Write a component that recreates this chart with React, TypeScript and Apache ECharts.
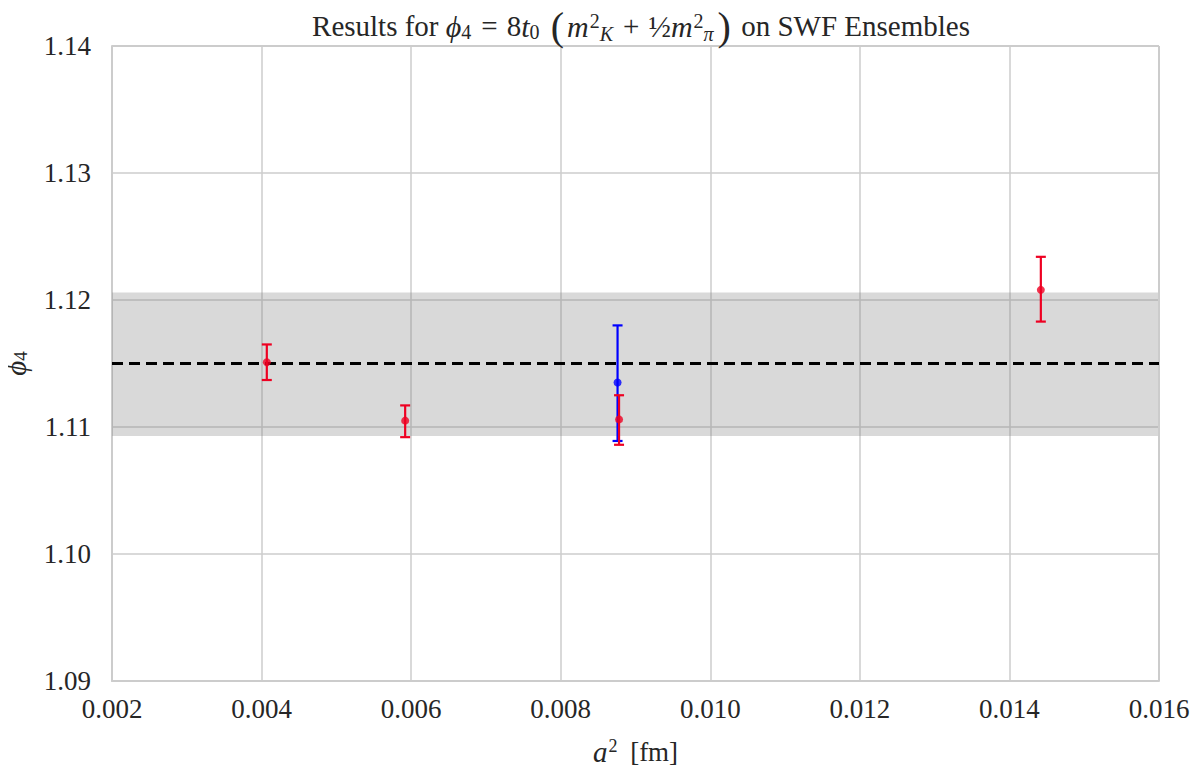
import React, { useEffect, useRef } from "react";
import * as echarts from "echarts";

const xTicks = [0.002, 0.004, 0.006, 0.008, 0.01, 0.012, 0.014, 0.016];
const redX = [0.00407, 0.00592, 0.00878, 0.01442];
const redY = [1.1151, 1.1105, 1.1106, 1.1208];
const redLo = [1.1137, 1.1092, 1.1086, 1.1183];
const redHi = [1.1165, 1.1117, 1.1125, 1.1234];
const blueX = [0.00876];
const blueY = [1.1135];
const blueLo = [1.1089];
const blueHi = [1.1180];
const fitValue = 1.115;
const bandLo = 1.1093;
const bandHi = 1.1206;

const RED = "#ee0022";
const BLUE = "#0000ff";
const FONT = "Liberation Serif";
const TXT = "#262626";

function errSeries(xs: number[], lo: number[], hi: number[], color: string) {
  return {
    type: "custom",
    z: 5,
    renderItem: (params: any, api: any) => {
      const x = api.value(0);
      const p1 = api.coord([x, api.value(1)]);
      const p2 = api.coord([x, api.value(2)]);
      const cap = 5;
      const style = { stroke: color, lineWidth: 2.2 };
      return {
        type: "group",
        children: [
          { type: "line", shape: { x1: p1[0], y1: p1[1], x2: p2[0], y2: p2[1] }, style },
          { type: "line", shape: { x1: p1[0] - cap, y1: p1[1], x2: p1[0] + cap, y2: p1[1] }, style },
          { type: "line", shape: { x1: p2[0] - cap, y1: p2[1], x2: p2[0] + cap, y2: p2[1] }, style },
        ],
      };
    },
    data: xs.map((x, i) => [x, lo[i], hi[i]]),
  };
}

export default function App() {
  const ref = useRef<HTMLDivElement>(null);
  useEffect(() => {
    const chart = echarts.init(ref.current!, null, { renderer: "svg" });
    chart.setOption({
      animation: false,
      backgroundColor: "#ffffff",
      title: {
        text:
          "Results for {i|ϕ}{sb|4}{op|=}8{i|t}{sb|0} {p|(}{i|m}{sp|2}{sbi|K}{op|+}{fr|½}{i|m}{sp|2}{sbi|π}{p|)} on SWF Ensembles",
        left: 636,
        textAlign: "center",
        top: 0,
        textStyle: {
          fontFamily: FONT,
          fontSize: 29,
          fontWeight: "normal",
          color: TXT,
          lineHeight: 42,
          rich: {
            i: { fontFamily: FONT, fontStyle: "italic", fontSize: 30, color: TXT },
            op: { fontFamily: FONT, fontSize: 29, color: TXT, padding: [0, 9, 0, 9] },
            sb: { fontFamily: FONT, fontSize: 20, color: TXT, verticalAlign: "bottom", padding: [0, 1, 5, 0] },
            sbi: { fontFamily: FONT, fontStyle: "italic", fontSize: 20, color: TXT, verticalAlign: "bottom", padding: [0, 1, 3, 0] },
            sp: { fontFamily: FONT, fontSize: 20, color: TXT, verticalAlign: "top", padding: [6, 0, 0, 1] },
            p: { fontFamily: FONT, fontSize: 40, color: TXT, padding: [0, 3, 0, 3] },
            fr: { fontFamily: FONT, fontSize: 30, color: TXT },
          },
        },
      },
      grid: {
        left: 112,
        right: 44,
        top: 46,
        bottom: 94,
        show: false,
        containLabel: false,
        outerBoundsMode: "none",
      },
      xAxis: {
        type: "value",
        min: 0.002,
        max: 0.016,
        interval: 0.002,
        name: "{i|a}{sp|2} [fm]",
        nameLocation: "middle",
        nameGap: 56,
        nameTextStyle: {
          fontFamily: FONT,
          fontSize: 27,
          color: TXT,
          rich: {
            i: { fontFamily: FONT, fontStyle: "italic", fontSize: 29, color: TXT },
            sp: { fontFamily: FONT, fontSize: 18, color: TXT, verticalAlign: "top", padding: [0, 6, 0, 1] },
          },
        },
        axisLine: { show: true, lineStyle: { color: "#cccccc", width: 2 } },
        axisTick: { show: false },
        axisLabel: {
          fontFamily: FONT,
          fontSize: 27,
          color: TXT,
          margin: 14,
          formatter: (v: number) => v.toFixed(3),
        },
        splitLine: { show: true, lineStyle: { color: "#cccccc", width: 1.5 } },
      },
      yAxis: {
        type: "value",
        min: 1.09,
        max: 1.14,
        interval: 0.01,
        name: "{i|ϕ}{sb|4}",
        nameLocation: "middle",
        nameGap: 82,
        nameRotate: 90,
        nameTextStyle: {
          fontFamily: FONT,
          fontSize: 27,
          color: TXT,
          rich: {
            i: { fontFamily: FONT, fontStyle: "italic", fontSize: 29, color: TXT },
            sb: { fontFamily: FONT, fontSize: 19, color: TXT, verticalAlign: "bottom" },
          },
        },
        axisLine: { show: true, lineStyle: { color: "#cccccc", width: 2 } },
        axisTick: { show: false },
        axisLabel: {
          fontFamily: FONT,
          fontSize: 27,
          color: TXT,
          margin: 21,
          formatter: (v: number) => v.toFixed(2),
        },
        splitLine: { show: true, lineStyle: { color: "#cccccc", width: 1.5 } },
      },
      series: [
        {
          type: "line",
          data: [
            [0.002, fitValue],
            [0.016, fitValue],
          ],
          symbol: "none",
          z: 4,
          lineStyle: { color: "#000000", width: 3, type: [11, 6] },
          markArea: {
            silent: true,
            itemStyle: { color: "rgba(128,128,128,0.3)" },
            data: [[{ yAxis: bandLo }, { yAxis: bandHi }]],
          },
        },
        {
          type: "line",
          data: [
            [0.016, 1.09],
            [0.016, 1.14],
          ],
          symbol: "none",
          z: 3,
          lineStyle: { color: "#cccccc", width: 2 },
        },
        {
          type: "line",
          data: [
            [0.002, 1.14],
            [0.016, 1.14],
          ],
          symbol: "none",
          z: 3,
          lineStyle: { color: "#cccccc", width: 2 },
        },
        errSeries(blueX, blueLo, blueHi, BLUE),
        errSeries(redX, redLo, redHi, RED),
        {
          type: "scatter",
          z: 6,
          symbolSize: 8,
          itemStyle: { color: BLUE },
          data: blueX.map((x, i) => [x, blueY[i]]),
        },
        {
          type: "scatter",
          z: 7,
          symbolSize: 8,
          itemStyle: { color: RED },
          data: redX.map((x, i) => [x, redY[i]]),
        },
      ],
    });
    return () => chart.dispose();
  }, []);
  return <div ref={ref} style={{ width: 1203, height: 775, margin: -8 }} />;
}
